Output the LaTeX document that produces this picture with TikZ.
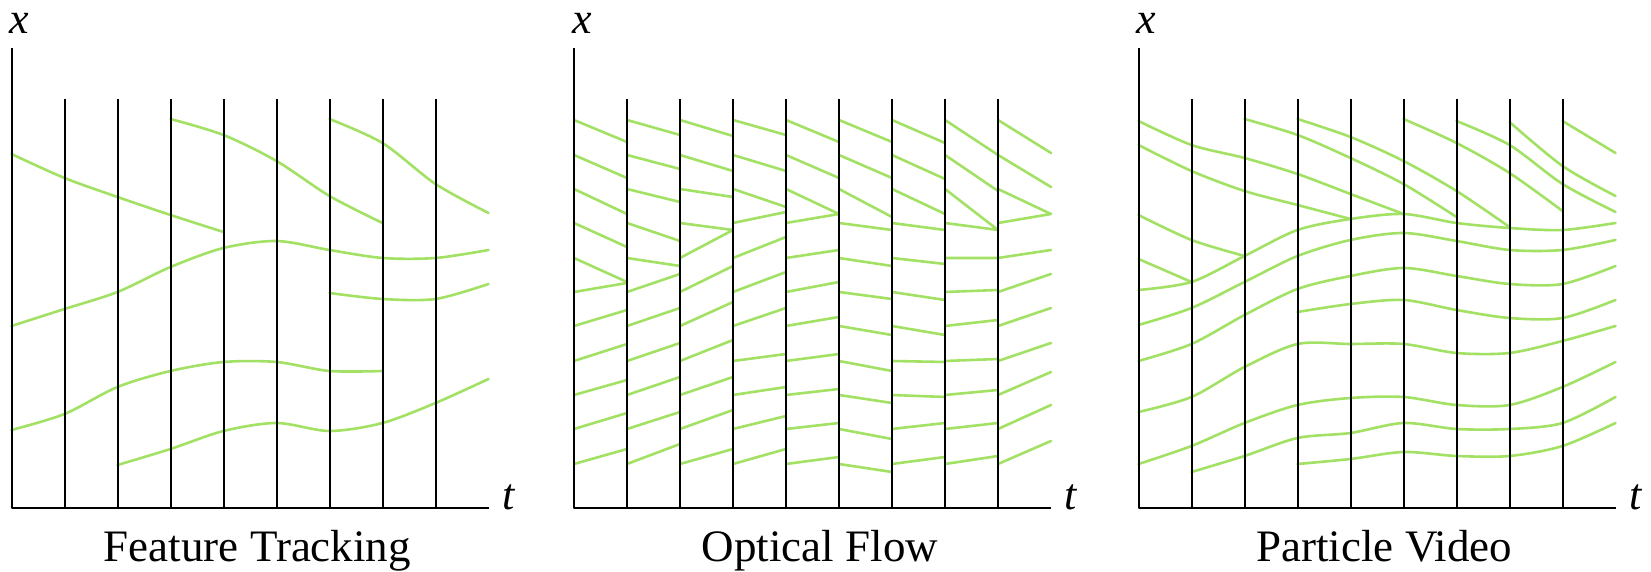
\documentclass[tikz,border=0pt]{standalone}
\usepackage{fontspec}
\setmainfont{Liberation Serif}
\usepackage{tikz}
\definecolor{trackgreen}{HTML}{A2E164}
\tikzset{
  every picture/.style={line join=round},
  axisline/.style={line width=2pt, black},
  frameline/.style={line width=2pt, black},
  track/.style={line width=2.6pt, trackgreen, line cap=round},
  axislabel/.style={font=\fontsize{44}{48}\selectfont\itshape, inner sep=0pt},
  caption/.style={font=\fontsize{45}{50}\selectfont, inner sep=0pt, anchor=base},
}

\begin{document}
\begin{tikzpicture}[x=1pt, y=1pt]
\useasboundingbox (0,0) rectangle (1651,572);

% Feature Tracking
\begin{scope}[shift={(11.5pt,64pt)}, x=53pt]
\draw[track] plot[smooth] coordinates {(3,389) (4,373) (5,347) (6,312) (7,285)};
\draw[track] plot[smooth] coordinates {(6,389) (7,365) (8,324) (9,295)};
\draw[track] plot[smooth] coordinates {(0,354) (1,330) (2,311) (3,293) (4,276)};
\draw[track] plot[smooth] coordinates {(0,182) (1,199) (2,216) (3,241) (4,260) (5,267) (6,258) (7,250) (8,250) (9,258)};
\draw[track] plot[smooth] coordinates {(6,215) (7,209) (8,209) (9,224)};
\draw[track] plot[smooth] coordinates {(0,78) (1,94) (2,121) (3,137) (4,146) (5,146) (6,137) (7,137)};
\draw[track] plot[smooth] coordinates {(2,43) (3,59) (4,77) (5,85) (6,77) (7,85) (8,105) (9,129)};
\draw[frameline] (1,0)--(1,409) (2,0)--(2,409) (3,0)--(3,409) (4,0)--(4,409)
  (5,0)--(5,409) (6,0)--(6,409) (7,0)--(7,409) (8,0)--(8,409);
\draw[axisline] (0,460) -- (0,0) -- (9,0);
\node[axislabel] (ftx) at (0.15,485) {x};
\node[axislabel] (ftt) at (9.37,11) {t};
\node[caption] (ftcap) at (4.64,-54) {Feature Tracking};
\end{scope}

% Optical Flow
\begin{scope}[shift={(574pt,64pt)}, x=53pt]
\draw[track] (0,388)--(1,366) (0,353)--(1,330) (0,319)--(1,294) (0,285)--(1,261)
  (0,250)--(1,226) (0,216)--(1,225) (0,182)--(1,198) (0,147)--(1,164)
  (0,113)--(1,128) (0,79)--(1,95) (0,44)--(1,59);
\draw[track] (1,388)--(2,373) (1,353)--(2,339) (1,319)--(2,306) (1,285)--(2,267)
  (1,250)--(2,242) (1,216)--(2,234) (1,182)--(2,200) (1,147)--(2,165)
  (1,113)--(2,131) (1,79)--(2,96) (1,44)--(2,64);
\draw[track] (2,388)--(3,372) (2,353)--(3,337) (2,319)--(3,311) (2,285)--(3,278)
  (2,250)--(3,278) (2,216)--(3,242) (2,182)--(3,206) (2,147)--(3,168)
  (2,113)--(3,131) (2,79)--(3,98) (2,44)--(3,59);
\draw[track] (3,388)--(4,373) (3,353)--(4,337) (3,319)--(4,301) (3,285)--(4,296)
  (3,250)--(4,271) (3,216)--(4,236) (3,182)--(4,200) (3,147)--(4,154)
  (3,113)--(4,121) (3,79)--(4,92) (3,44)--(4,59);
\draw[track] (4,388)--(5,366) (4,353)--(5,330) (4,319)--(5,294) (4,285)--(5,294)
  (4,250)--(5,258) (4,216)--(5,226) (4,182)--(5,191) (4,147)--(5,154)
  (4,113)--(5,119) (4,79)--(5,85) (4,44)--(5,51);
\draw[track] (5,388)--(6,366) (5,353)--(6,330) (5,319)--(6,291) (5,285)--(6,278)
  (5,250)--(6,242) (5,216)--(6,209) (5,182)--(6,173) (5,147)--(6,137)
  (5,113)--(6,105) (5,79)--(6,69) (5,44)--(6,36);
\draw[track] (6,388)--(7,365) (6,353)--(7,329) (6,319)--(7,294) (6,285)--(7,278)
  (6,250)--(7,244) (6,216)--(7,208) (6,182)--(7,173) (6,147)--(7,146)
  (6,113)--(7,111) (6,79)--(7,85) (6,44)--(7,51);
\draw[track] (7,388)--(8,353) (7,353)--(8,317) (7,319)--(8,278) (7,285)--(8,278)
  (7,250)--(8,250) (7,216)--(8,218) (7,182)--(8,188) (7,147)--(8,149)
  (7,113)--(8,118) (7,79)--(8,85) (7,44)--(8,52);
\draw[track] (8,388)--(9,355) (8,353)--(9,321) (8,319)--(9,294) (8,285)--(9,294)
  (8,250)--(9,258) (8,216)--(9,234) (8,182)--(9,200) (8,147)--(9,165)
  (8,113)--(9,136) (8,79)--(9,103) (8,44)--(9,67);
\draw[frameline] (1,0)--(1,409) (2,0)--(2,409) (3,0)--(3,409) (4,0)--(4,409)
  (5,0)--(5,409) (6,0)--(6,409) (7,0)--(7,409) (8,0)--(8,409);
\draw[axisline] (0,460) -- (0,0) -- (9,0);
\node[axislabel] (ofx) at (0.15,485) {x};
\node[axislabel] (oft) at (9.37,11) {t};
\node[caption] (ofcap) at (4.64,-54) {Optical Flow};
\end{scope}

% Particle Video
\begin{scope}[shift={(1138.5pt,64pt)}, x=53pt]
\draw[track] plot[smooth] coordinates {(8,387) (9,355)};
\draw[track] plot[smooth] coordinates {(7,386) (8,342) (9,312)};
\draw[track] plot[smooth] coordinates {(6,387) (7,363) (8,324) (9,296)};
\draw[track] plot[smooth] coordinates {(5,389) (6,365) (7,335) (8,297)};
\draw[track] plot[smooth] coordinates {(3,389) (4,371) (5,347) (6,317) (7,281)};
\draw[track] plot[smooth] coordinates {(2,389) (3,373) (4,350) (5,324) (6,291)};
\draw[track] plot[smooth] coordinates {(0,387) (1,363) (2,350) (3,334) (4,314) (5,294)};
\draw[track] plot[smooth] coordinates {(0,363) (1,337) (2,317) (3,303) (4,289)};
\draw[track] plot[smooth] coordinates {(0,293) (1,268) (2,252)};
\draw[track] plot[smooth] coordinates {(0,249) (1,226)};
\draw[track] plot[smooth] coordinates {(0,218) (1,226) (2,252) (3,278) (4,289) (5,294) (6,285) (7,280) (8,278) (9,285)};
\draw[track] plot[smooth] coordinates {(0,183) (1,200) (2,226) (3,252) (4,268) (5,275) (6,267) (7,258) (8,258) (9,268)};
\draw[track] plot[smooth] coordinates {(0,147) (1,164) (2,193) (3,219) (4,232) (5,240) (6,232) (7,224) (8,224) (9,242)};
\draw[track] plot[smooth] coordinates {(3,196) (4,204) (5,208) (6,198) (7,190) (8,190) (9,208)};
\draw[track] plot[smooth] coordinates {(0,96) (1,111) (2,141) (3,164) (4,164) (5,164) (6,155) (7,155) (8,167) (9,182)};
\draw[track] plot[smooth] coordinates {(0,44) (1,62) (2,85) (3,103) (4,110) (5,111) (6,103) (7,103) (8,121) (9,146)};
\draw[track] plot[smooth] coordinates {(1,36) (2,52) (3,70) (4,75) (5,85) (6,79) (7,79) (8,85) (9,111)};
\draw[track] plot[smooth] coordinates {(3,44) (4,49) (5,56) (6,52) (7,52) (8,62) (9,85)};
\draw[frameline] (1,0)--(1,409) (2,0)--(2,409) (3,0)--(3,409) (4,0)--(4,409)
  (5,0)--(5,409) (6,0)--(6,409) (7,0)--(7,409) (8,0)--(8,409);
\draw[axisline] (0,460) -- (0,0) -- (9,0);
\node[axislabel] (pvx) at (0.15,485) {x};
\node[axislabel] (pvt) at (9.37,11) {t};
\node[caption] (pvcap) at (4.64,-54) {Particle Video};
\end{scope}
\end{tikzpicture}
\end{document}
